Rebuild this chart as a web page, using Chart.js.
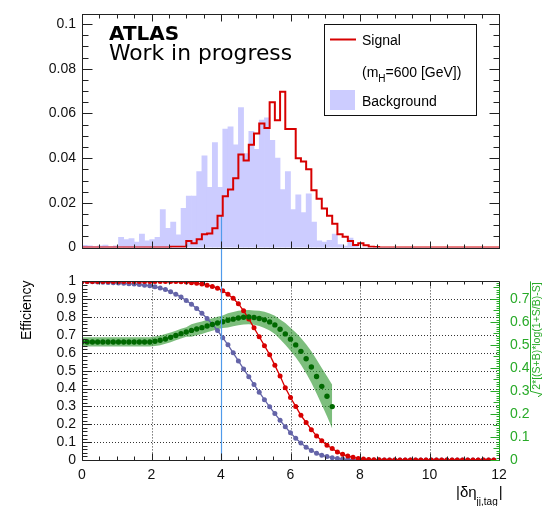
<!DOCTYPE html>
<html><head><meta charset="utf-8">
<script src="https://cdn.jsdelivr.net/npm/chart.js@4.4.1/dist/chart.umd.min.js"></script>
<style>
html,body{margin:0;padding:0;background:#fff;}
#top{position:absolute;left:0;top:0;}
#bot{position:absolute;left:0;top:262px;}
</style></head><body>
<canvas id="top" width="546" height="262"></canvas>
<canvas id="bot" width="546" height="244"></canvas>
<script>
// ---------------- DATA ----------------
const binWidth = 0.15;           // histogram bin width in |delta eta|
const xRange = [0, 12];
const cutValue = 4;              // vertical cut line
const cutLineTop = 0.0143;       // cut line top (top panel value)

const signalHist = [
 0,0,0,0,0,0,0,0,0,0,0,0,0,0,0,0,0,
 0.0004,0.0004,0.0004,0.003,0.002,0.0037,0.006,0.0063,0.0086,0.0143,
 0.023,0.026,0.031,0.0416,0.039,0.046,0.051,0.0555,0.0535,0.065,
 0.057,0.0697,0.053,0.053,0.040,0.0385,0.035,0.0257,0.0218,0.0175,
 0.0143,0.0107,0.006,0.0048,0.003,0.0012,0.002,0.001,0.0004,0.0003,
 0,0,0,0,0,0,0,0,0,0,0,0,0,0,0,0,0,0,0,0,0,0,0
];
const backgroundHist = [
 0.001,0.0008,0.0005,0.0008,0.0011,0.0005,0.0008,0.0046,0.0036,0.004,
 0.0025,0.006,0.003,0.0036,0.0046,0.017,0.0086,0.0114,0.0057,0.0176,
 0.023,0.023,0.034,0.041,0.027,0.047,0.027,0.053,0.054,0.046,
 0.0626,0.042,0.052,0.044,0.057,0.058,0.048,0.040,0.026,0.034,
 0.017,0.0236,0.0157,0.024,0.0114,0.003,0.0025,0.0032,0.006,0.0014,
 0.0007,0.0043,0.0007,
 0,0,0,0,0,0,0,0,0,0,0,0,0,0,0,0,0,0,0,0,0,0,0,0,0,0,0
];
const signalEff = [
 1,1,1,1,1,1,1,1,1,1,1,1,1,1,1,1,1,
 0.999,0.999,0.998,0.996,0.993,0.99,0.985,0.979,0.972,0.962,
 0.947,0.928,0.905,0.875,0.835,0.79,0.74,0.69,0.64,0.59,
 0.53,0.47,0.405,0.35,0.30,0.25,0.21,0.17,0.135,0.108,
 0.083,0.064,0.045,0.032,0.022,0.015,0.009,0.005,0.003,0.002,0.001,
 0,0,0,0,0,0,0,0,0,0,0,0,0,0,0,0,0,0,0,0,0,0
];
const backgroundEff = [
 1,0.999,0.998,0.997,0.995,0.994,0.993,0.991,0.989,0.987,
 0.985,0.982,0.979,0.975,0.97,0.963,0.954,0.942,0.928,0.912,
 0.893,0.872,0.848,0.822,0.792,0.76,0.725,0.685,0.645,0.6,
 0.555,0.51,0.466,0.423,0.38,0.338,0.298,0.26,0.222,0.186,
 0.152,0.122,0.095,0.072,0.053,0.038,0.027,0.019,0.013,0.008,
 0.005,0.003,0.002,0.001,
 0,0,0,0,0,0,0,0,0,0,0,0,0,0,0,0,0,0,0,0,0,0,0,0,0,0
];
const significance = [
 0.513,0.513,0.513,0.513,0.513,0.513,0.513,0.513,0.513,0.513,0.513,0.513,0.513,0.513,
 0.516,0.52,0.526,0.533,0.541,0.549,0.556,0.563,0.569,0.575,
 0.582,0.589,0.595,0.601,0.607,0.612,0.617,0.62,0.621,0.619,
 0.615,0.609,0.6,0.587,0.568,0.548,0.525,0.5,0.472,0.44,
 0.404,0.363,0.32,0.277,0.232
];
const significanceErr = [
 0.02,0.02,0.02,0.02,0.02,0.02,0.02,0.02,0.02,0.02,0.02,0.02,0.02,0.02,
 0.021,0.021,0.021,0.021,0.021,0.021,0.021,
 0.027,0.027,0.027,0.027,0.027,0.027,0.027,
 0.031,0.031,0.031,0.031,0.031,0.031,
 0.033,0.035,0.037,0.04,0.043,0.047,0.05,0.054,0.058,0.063,
 0.068,0.074,0.08,0.087,0.095
];
const topYTicks = [0, 0.02, 0.04, 0.06, 0.08, 0.1];
const topYMax = 0.1043;
const effTicks = [0, 0.1, 0.2, 0.3, 0.4, 0.5, 0.6, 0.7, 0.8, 0.9, 1];
const sigTicks = [0, 0.1, 0.2, 0.3, 0.4, 0.5, 0.6, 0.7];
const sigMax = 0.776;
const xTicks = [0, 2, 4, 6, 8, 10, 12];
const legendLabels = ['Signal', 'Background'];

// ---------------- STYLE ----------------
const FONT = '"Liberation Sans", Arial, sans-serif';
const RED = 'rgb(215,0,0)';
const LAV = 'rgb(204,204,255)';
const BLUEGREY = 'rgb(100,100,168)';
const GREEN = 'rgb(40,170,40)';
const DKGREEN = 'rgb(0,105,0)';
const CUTCOL = 'rgb(80,155,235)';
Chart.defaults.font.family = FONT;
Chart.defaults.font.size = 14;
Chart.defaults.color = '#000';

function yTicksDraw(ctx, scale, xLine, dir, minorStep, perMajor, lenMajor, lenMinor, color, midEvery, lenMid) {
  const n = Math.floor(scale.max / minorStep + 1e-6);
  ctx.save(); ctx.strokeStyle = color; ctx.lineWidth = 1; ctx.beginPath();
  for (let k = 0; k <= n; k++) {
    const y = Math.round(scale.getPixelForValue(k * minorStep)) + 0.5;
    let len = lenMinor;
    if (k % perMajor === 0) len = lenMajor; else if (midEvery && k % midEvery === 0) len = lenMid;
    ctx.moveTo(xLine, y); ctx.lineTo(xLine + dir * len, y);
  }
  ctx.stroke(); ctx.restore();
}
function xTicksDraw(ctx, scale, yLine, dir, minorStep, perMajor, lenMajor, lenMinor, color) {
  const n = Math.floor(scale.max / minorStep + 1e-6);
  ctx.save(); ctx.strokeStyle = color; ctx.lineWidth = 1; ctx.beginPath();
  for (let k = 0; k <= n; k++) {
    const x = Math.round(scale.getPixelForValue(k * minorStep)) + 0.5;
    const len = (k % perMajor === 0) ? lenMajor : lenMinor;
    ctx.moveTo(x, yLine); ctx.lineTo(x, yLine + dir * len);
  }
  ctx.stroke(); ctx.restore();
}

// ---------------- TOP PANEL ----------------
const sigStepData = signalHist.map((v, i) => ({x: xRange[0] + i * binWidth, y: v}));
sigStepData.push({x: xRange[0] + signalHist.length * binWidth, y: signalHist[signalHist.length - 1]});
const bkgBarData = backgroundHist.map((v, i) => ({x: xRange[0] + (i + 0.5) * binWidth, y: v}));

const topDeco = {
  id: 'topDeco',
  afterDatasetDraw(chart, args) {
    if (args.meta.type !== 'bar') return;
    const ctx = chart.ctx;
    const x = Math.round(chart.scales.x.getPixelForValue(cutValue)) + 0.5;
    const y0 = chart.scales.y.getPixelForValue(cutLineTop);
    ctx.save(); ctx.strokeStyle = CUTCOL; ctx.lineWidth = 1.2;
    ctx.beginPath(); ctx.moveTo(x, y0); ctx.lineTo(x, chart.height); ctx.stroke(); ctx.restore();
  },
  afterDraw(chart) {
    const ctx = chart.ctx, a = chart.chartArea, xs = chart.scales.x, ys = chart.scales.y;
    const L = Math.round(a.left) + 0.5, R = Math.round(a.right) + 0.5, T = Math.round(a.top) + 0.5, B = Math.round(a.bottom) + 0.5;
    ctx.save();
    ctx.strokeStyle = '#222'; ctx.lineWidth = 1;
    ctx.strokeRect(L, T, R - L, B - T);
    ctx.restore();
    yTicksDraw(ctx, ys, L, 1, 0.005, 4, 10, 6, '#222');
    yTicksDraw(ctx, ys, R, -1, 0.005, 4, 10, 6, '#222');
    xTicksDraw(ctx, xs, B, -1, 0.5, 4, 7, 4, '#222');
    xTicksDraw(ctx, xs, T, 1, 0.5, 4, 7, 4, '#222');

    // ATLAS label
    ctx.save();
    ctx.fillStyle = '#000'; ctx.textBaseline = 'alphabetic'; ctx.textAlign = 'left';
    ctx.font = 'bold 20px "DejaVu Sans"';
    ctx.fillText('ATLAS', 109, 40);
    ctx.font = '21px "DejaVu Sans"';
    const w = ctx.measureText('Work in progress').width;
    ctx.save(); ctx.translate(109, 60); ctx.scale(183 / w, 1);
    ctx.fillText('Work in progress', 0, 0); ctx.restore();
    ctx.restore();

    // Legend
    ctx.save();
    ctx.fillStyle = '#fff';
    ctx.fillRect(324, 24, 152, 91);
    ctx.strokeStyle = '#111'; ctx.lineWidth = 1;
    ctx.strokeRect(324.5, 24.5, 152, 91);
    ctx.strokeStyle = RED; ctx.lineWidth = 2;
    ctx.beginPath(); ctx.moveTo(330, 39.5); ctx.lineTo(356, 39.5); ctx.stroke();
    ctx.fillStyle = LAV; ctx.fillRect(330, 90, 25, 20);
    ctx.fillStyle = '#000'; ctx.font = '14px ' + FONT; ctx.textBaseline = 'alphabetic';
    ctx.fillText(legendLabels[0], 362, 44.5);
    ctx.fillText('(m', 362, 77);
    let xx = 362 + ctx.measureText('(m').width;
    ctx.font = '10px ' + FONT; ctx.fillText('H', xx, 82);
    xx += ctx.measureText('H').width;
    ctx.font = '14px ' + FONT; ctx.fillText('=600 [GeV])', xx, 77);
    ctx.fillText(legendLabels[1], 362, 106);
    ctx.restore();
  }
};

new Chart(document.getElementById('top'), {
  type: 'bar',
  data: {
    datasets: [
      {type: 'line', label: legendLabels[0], data: sigStepData, stepped: true, borderColor: RED, borderWidth: 2,
       pointRadius: 0, fill: false},
      {type: 'bar', label: legendLabels[1], data: bkgBarData, backgroundColor: LAV, borderWidth: 0,
       barPercentage: 1, categoryPercentage: 1, grouped: false}
    ]
  },
  options: {
    responsive: false, animation: false, events: [],
    layout: {padding: {left: 0, right: 47, top: 11, bottom: 9}},
    plugins: {legend: {display: false}, tooltip: {enabled: false}},
    scales: {
      x: {type: 'linear', min: xRange[0], max: xRange[1], offset: false, display: false},
      y: {min: 0, max: topYMax, grid: {display: false, drawTicks: false}, border: {display: false},
          afterBuildTicks: s => { s.ticks = topYTicks.map(v => ({value: v})); },
          afterFit: s => { s.width = 82; },
          ticks: {padding: 6, autoSkip: false, callback: v => String(v), font: {size: 14}, color: '#111'}}
    }
  },
  plugins: [topDeco]
});

// ---------------- BOTTOM PANEL ----------------
const px = i => xRange[0] + i * binWidth;
const sigEffData = signalEff.map((v, i) => ({x: px(i), y: v}));
const bkgEffData = backgroundEff.map((v, i) => ({x: px(i), y: v}));
const signifData = significance.map((v, i) => ({x: px(i), y: v}));
const signifUp = significance.map((v, i) => ({x: px(i), y: v + significanceErr[i]}));
const signifDn = significance.map((v, i) => ({x: px(i), y: v - significanceErr[i]}));

const botDeco = {
  id: 'botDeco',
  beforeDatasetsDraw(chart) {
    const ctx = chart.ctx, a = chart.chartArea, xs = chart.scales.x, ys = chart.scales.y;
    ctx.save(); ctx.strokeStyle = '#333'; ctx.lineWidth = 1; ctx.setLineDash([1, 2]);
    ctx.beginPath();
    xTicks.slice(1, -1).forEach(v => { if (v === cutValue) return; const x = Math.round(xs.getPixelForValue(v)) + 0.5; ctx.moveTo(x, a.top); ctx.lineTo(x, a.bottom); });
    effTicks.slice(1, -1).forEach(v => { const y = Math.round(ys.getPixelForValue(v)) + 0.5; ctx.moveTo(a.left, y); ctx.lineTo(a.right, y); });
    ctx.stroke(); ctx.restore();
  },
  afterDatasetsDraw(chart) {
    const ctx = chart.ctx;
    const x = Math.round(chart.scales.x.getPixelForValue(cutValue)) + 0.5;
    ctx.save(); ctx.strokeStyle = CUTCOL; ctx.lineWidth = 1.2;
    ctx.beginPath(); ctx.moveTo(x, 0); ctx.lineTo(x, chart.scales.y.getPixelForValue(0)); ctx.stroke(); ctx.restore();
  },
  afterDraw(chart) {
    const ctx = chart.ctx, a = chart.chartArea, xs = chart.scales.x, ys = chart.scales.y, y2 = chart.scales.y2;
    const L = Math.round(a.left) + 0.5, R = Math.round(a.right) + 0.5, T = Math.round(a.top) + 0.5, B = Math.round(a.bottom) + 0.5;
    ctx.save(); ctx.strokeStyle = '#222'; ctx.lineWidth = 1;
    ctx.beginPath(); ctx.moveTo(R, T); ctx.lineTo(L, T); ctx.lineTo(L, B); ctx.lineTo(R, B); ctx.stroke();
    ctx.strokeStyle = GREEN; ctx.beginPath(); ctx.moveTo(R, T); ctx.lineTo(R, B); ctx.stroke();
    ctx.restore();
    yTicksDraw(ctx, ys, L, 1, 0.02, 5, 9, 5, '#222');
    yTicksDraw(ctx, y2, R, -1, 0.01, 10, 9, 3, GREEN, 5, 6);
    xTicksDraw(ctx, xs, B, -1, 0.5, 4, 7, 4, '#222');
    xTicksDraw(ctx, xs, T, 1, 0.5, 4, 5, 3, '#222');

    // Efficiency title
    ctx.save(); ctx.fillStyle = '#000'; ctx.font = '14px ' + FONT;
    ctx.translate(27, a.top - 1); ctx.rotate(-Math.PI / 2);
    ctx.textAlign = 'right'; ctx.textBaseline = 'middle'; ctx.fillText('Efficiency', 0, 0);
    ctx.restore();

    // right title with radical
    ctx.save(); ctx.fillStyle = GREEN; ctx.strokeStyle = GREEN; ctx.lineWidth = 1;
    ctx.font = '10.5px ' + FONT;
    const t = '2*[(S+B)*log(1+S/B)-S]';
    const tw = ctx.measureText(t).width;
    const total = 7 + tw + 1;
    ctx.translate(537, a.top + total); ctx.rotate(-Math.PI / 2);
    ctx.textAlign = 'left'; ctx.textBaseline = 'middle';
    ctx.fillText(t, 7, 0.5);
    ctx.beginPath(); ctx.moveTo(0, 1); ctx.lineTo(2.5, 5); ctx.lineTo(5.5, -6.5); ctx.lineTo(total, -6.5); ctx.stroke();
    ctx.restore();

    // x title
    ctx.save(); ctx.fillStyle = '#000'; ctx.textBaseline = 'alphabetic'; ctx.textAlign = 'left';
    ctx.font = '15px ' + FONT;
    let xx = 456;
    ctx.fillText('|\u03B4\u03B7', xx, 234.5);
    xx += ctx.measureText('|\u03B4\u03B7').width;
    ctx.font = '10px ' + FONT; ctx.fillText('jj,tag', xx, 243);
    xx += ctx.measureText('jj,tag').width + 1;
    ctx.font = '15px ' + FONT; ctx.fillText('|', xx, 234.5);
    ctx.restore();
  }
};

new Chart(document.getElementById('bot'), {
  type: 'line',
  data: {
    datasets: [
      {label: 'significance', data: signifData, yAxisID: 'y2', showLine: false, pointRadius: 2.7,
       pointBackgroundColor: DKGREEN, pointBorderWidth: 0},
      {label: 'signal eff', data: sigEffData, yAxisID: 'y', borderColor: RED, borderWidth: 1.3,
       pointRadius: 2.5, pointBackgroundColor: RED, pointBorderWidth: 0},
      {label: 'background eff', data: bkgEffData, yAxisID: 'y', borderColor: BLUEGREY, borderWidth: 1.3,
       pointRadius: 2.5, pointBackgroundColor: BLUEGREY, pointBorderWidth: 0},
      {label: 'band up', data: signifUp, yAxisID: 'y2', borderWidth: 0, pointRadius: 0,
       fill: '+1', backgroundColor: 'rgba(45,150,45,0.62)'},
      {label: 'band dn', data: signifDn, yAxisID: 'y2', borderWidth: 0, pointRadius: 0, fill: false}
    ]
  },
  options: {
    responsive: false, animation: false, events: [],
    layout: {padding: {left: 0, right: 0, top: 14, bottom: 16}},
    plugins: {legend: {display: false}, tooltip: {enabled: false}},
    scales: {
      x: {type: 'linear', min: xRange[0], max: xRange[1], offset: false, grid: {display: false, drawTicks: false}, border: {display: false},
          afterBuildTicks: s => { s.ticks = xTicks.map(v => ({value: v})); },
          afterFit: s => { s.height = 30; },
          ticks: {padding: 7, autoSkip: false, maxRotation: 0, callback: v => String(v), color: '#111'}},
      y: {position: 'left', min: 0, max: 1, grid: {display: false, drawTicks: false}, border: {display: false},
          afterBuildTicks: s => { s.ticks = effTicks.map(v => ({value: v})); },
          afterFit: s => { s.width = 82; },
          ticks: {padding: 6, autoSkip: false, callback: v => String(v), color: '#111'}},
      y2: {position: 'right', min: 0, max: sigMax, grid: {display: false, drawTicks: false}, border: {display: false},
          afterBuildTicks: s => { s.ticks = sigTicks.map(v => ({value: v})); },
          afterFit: s => { s.width = 47; },
          ticks: {padding: 11, autoSkip: false, callback: v => String(v), color: GREEN}}
    }
  },
  plugins: [botDeco]
});
</script>
</body></html>
